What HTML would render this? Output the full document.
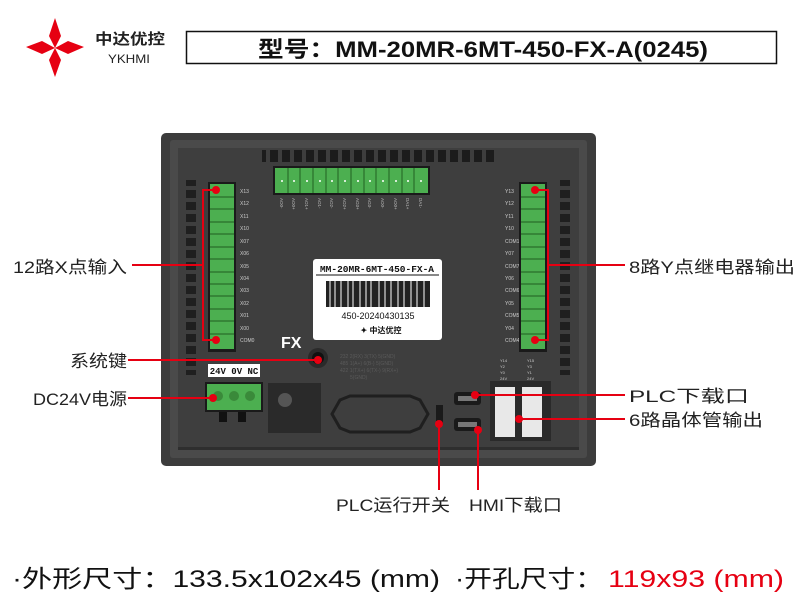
<!DOCTYPE html>
<html><head><meta charset="utf-8"><style>
body{margin:0;width:800px;height:600px;background:#fff;overflow:hidden;font-family:"Liberation Sans","Noto Sans CJK SC",sans-serif}
</style></head><body>
<svg width="800" height="600" viewBox="0 0 800 600" xmlns="http://www.w3.org/2000/svg" font-family="Liberation Sans, Noto Sans CJK SC, sans-serif">
<g fill="#e60012">
<polygon points="55,18 61,36 55,48 49,36"/>
<polygon points="55,48 61,60 55,77 49,60"/>
<polygon points="26,47 42,41 55,48 42,54"/>
<polygon points="84,47 68,41 55,48 68,54"/>
</g>
<text x="95" y="44" font-size="15" font-weight="bold" fill="#222" textLength="70" lengthAdjust="spacingAndGlyphs">中达优控</text>
<text x="108" y="63" font-size="12" fill="#222" textLength="42" lengthAdjust="spacingAndGlyphs">YKHMI</text>
<rect x="186.5" y="31.5" width="590" height="32" fill="none" stroke="#111" stroke-width="1.5"/>
<text x="258" y="57" font-size="22" font-weight="bold" fill="#111" textLength="450" lengthAdjust="spacingAndGlyphs">型号：MM-20MR-6MT-450-FX-A(0245)</text>

<rect x="161" y="133" width="435" height="333" rx="5" fill="#3c3c3c"/>
<rect x="170" y="140" width="417" height="318" rx="3" fill="#4a4a4a"/>
<rect x="178" y="148" width="401" height="300" fill="#3e3e3e"/>
<rect x="178" y="447" width="401" height="3" fill="#2e2e2e"/>
<rect x="262" y="150" width="232" height="12" fill="#1c1c1c"/>
<g fill="#1f1f1f">
<rect x="186" y="180" width="10" height="195"/>
<rect x="560" y="180" width="10" height="195"/>
</g>
<g fill="#3e3e3e">
<rect x="186" y="186" width="10" height="4"/><rect x="186" y="198" width="10" height="4"/><rect x="186" y="210" width="10" height="4"/><rect x="186" y="222" width="10" height="4"/><rect x="186" y="234" width="10" height="4"/><rect x="186" y="246" width="10" height="4"/><rect x="186" y="258" width="10" height="4"/><rect x="186" y="270" width="10" height="4"/><rect x="186" y="282" width="10" height="4"/><rect x="186" y="294" width="10" height="4"/><rect x="186" y="306" width="10" height="4"/><rect x="186" y="318" width="10" height="4"/><rect x="186" y="330" width="10" height="4"/><rect x="186" y="342" width="10" height="4"/><rect x="186" y="354" width="10" height="4"/><rect x="186" y="366" width="10" height="4"/>
<rect x="560" y="186" width="10" height="4"/><rect x="560" y="198" width="10" height="4"/><rect x="560" y="210" width="10" height="4"/><rect x="560" y="222" width="10" height="4"/><rect x="560" y="234" width="10" height="4"/><rect x="560" y="246" width="10" height="4"/><rect x="560" y="258" width="10" height="4"/><rect x="560" y="270" width="10" height="4"/><rect x="560" y="282" width="10" height="4"/><rect x="560" y="294" width="10" height="4"/><rect x="560" y="306" width="10" height="4"/><rect x="560" y="318" width="10" height="4"/><rect x="560" y="330" width="10" height="4"/><rect x="560" y="342" width="10" height="4"/><rect x="560" y="354" width="10" height="4"/><rect x="560" y="366" width="10" height="4"/>
<rect x="266" y="150" width="4" height="12"/><rect x="278" y="150" width="4" height="12"/><rect x="290" y="150" width="4" height="12"/><rect x="302" y="150" width="4" height="12"/><rect x="314" y="150" width="4" height="12"/><rect x="326" y="150" width="4" height="12"/><rect x="338" y="150" width="4" height="12"/><rect x="350" y="150" width="4" height="12"/><rect x="362" y="150" width="4" height="12"/><rect x="374" y="150" width="4" height="12"/><rect x="386" y="150" width="4" height="12"/><rect x="398" y="150" width="4" height="12"/><rect x="410" y="150" width="4" height="12"/><rect x="422" y="150" width="4" height="12"/><rect x="434" y="150" width="4" height="12"/><rect x="446" y="150" width="4" height="12"/><rect x="458" y="150" width="4" height="12"/><rect x="470" y="150" width="4" height="12"/><rect x="482" y="150" width="4" height="12"/>
</g>
<rect x="273" y="166" width="157" height="29" fill="#1a1a1a"/>
<rect x="275" y="168" width="153" height="25" fill="#4caf50"/>
<g stroke="#2a6e2a" stroke-width="1.2">
<line x1="288" y1="168" x2="288" y2="193"/><line x1="300" y1="168" x2="300" y2="193"/><line x1="313" y1="168" x2="313" y2="193"/><line x1="326" y1="168" x2="326" y2="193"/><line x1="338" y1="168" x2="338" y2="193"/><line x1="351" y1="168" x2="351" y2="193"/><line x1="364" y1="168" x2="364" y2="193"/><line x1="376" y1="168" x2="376" y2="193"/><line x1="389" y1="168" x2="389" y2="193"/><line x1="402" y1="168" x2="402" y2="193"/><line x1="414" y1="168" x2="414" y2="193"/>
</g>
<g fill="#fff"><circle cx="282" cy="181" r="1"/><circle cx="294" cy="181" r="1"/><circle cx="307" cy="181" r="1"/><circle cx="320" cy="181" r="1"/><circle cx="332" cy="181" r="1"/><circle cx="345" cy="181" r="1"/><circle cx="358" cy="181" r="1"/><circle cx="370" cy="181" r="1"/><circle cx="383" cy="181" r="1"/><circle cx="396" cy="181" r="1"/><circle cx="408" cy="181" r="1"/><circle cx="421" cy="181" r="1"/></g>
<g font-size="4.5" fill="#bbb">
<text transform="translate(280,198) rotate(90)">AO0-</text><text transform="translate(292,198) rotate(90)">AO0+</text><text transform="translate(305,198) rotate(90)">AO1+</text><text transform="translate(318,198) rotate(90)">AO1-</text><text transform="translate(330,198) rotate(90)">AO2-</text><text transform="translate(343,198) rotate(90)">AO2+</text><text transform="translate(356,198) rotate(90)">AO3+</text><text transform="translate(368,198) rotate(90)">AO3-</text><text transform="translate(381,198) rotate(90)">AO0-</text><text transform="translate(394,198) rotate(90)">AO0+</text><text transform="translate(406,198) rotate(90)">DA1+</text><text transform="translate(419,198) rotate(90)">DA1-</text>
</g>
<rect x="208" y="182" width="28" height="170" fill="#1a1a1a"/>
<rect x="210" y="184" width="24" height="165" fill="#4caf50"/>
<g stroke="#2a6e2a" stroke-width="1.2">
<line x1="210" y1="197" x2="234" y2="197"/><line x1="210" y1="209" x2="234" y2="209"/><line x1="210" y1="222" x2="234" y2="222"/><line x1="210" y1="234" x2="234" y2="234"/><line x1="210" y1="247" x2="234" y2="247"/><line x1="210" y1="259" x2="234" y2="259"/><line x1="210" y1="272" x2="234" y2="272"/><line x1="210" y1="284" x2="234" y2="284"/><line x1="210" y1="296" x2="234" y2="296"/><line x1="210" y1="309" x2="234" y2="309"/><line x1="210" y1="321" x2="234" y2="321"/><line x1="210" y1="334" x2="234" y2="334"/>
</g>
<g font-size="5" fill="#ccc">
<text x="240" y="193">X13</text><text x="240" y="205">X12</text><text x="240" y="218">X11</text><text x="240" y="230">X10</text><text x="240" y="243">X07</text><text x="240" y="255">X06</text><text x="240" y="268">X05</text><text x="240" y="280">X04</text><text x="240" y="292">X03</text><text x="240" y="305">X02</text><text x="240" y="317">X01</text><text x="240" y="330">X00</text><text x="240" y="342">COM0</text>
<text x="505" y="193">Y13</text><text x="505" y="205">Y12</text><text x="505" y="218">Y11</text><text x="505" y="230">Y10</text><text x="505" y="243">COM1</text><text x="505" y="255">Y07</text><text x="505" y="268">COM7</text><text x="505" y="280">Y06</text><text x="505" y="292">COM6</text><text x="505" y="305">Y05</text><text x="505" y="317">COM5</text><text x="505" y="330">Y04</text><text x="505" y="342">COM4</text>
</g>
<rect x="519" y="182" width="28" height="170" fill="#1a1a1a"/>
<rect x="521" y="184" width="24" height="165" fill="#4caf50"/>
<g stroke="#2a6e2a" stroke-width="1.2">
<line x1="521" y1="197" x2="545" y2="197"/><line x1="521" y1="209" x2="545" y2="209"/><line x1="521" y1="222" x2="545" y2="222"/><line x1="521" y1="234" x2="545" y2="234"/><line x1="521" y1="247" x2="545" y2="247"/><line x1="521" y1="259" x2="545" y2="259"/><line x1="521" y1="272" x2="545" y2="272"/><line x1="521" y1="284" x2="545" y2="284"/><line x1="521" y1="296" x2="545" y2="296"/><line x1="521" y1="309" x2="545" y2="309"/><line x1="521" y1="321" x2="545" y2="321"/><line x1="521" y1="334" x2="545" y2="334"/>
</g>
<rect x="313" y="259" width="129" height="81" rx="3" fill="#fff"/>
<text x="377" y="272" font-size="9.5" font-weight="bold" fill="#111" text-anchor="middle" font-family="Liberation Mono, monospace">MM-20MR-6MT-450-FX-A</text>
<line x1="316" y1="275" x2="439" y2="275" stroke="#111"/>
<rect x="326" y="281" width="104" height="26" fill="#222"/>
<g stroke="#fff" stroke-width="1"><line x1="330" y1="281" x2="330" y2="307"/><line x1="335" y1="281" x2="335" y2="307"/><line x1="341" y1="281" x2="341" y2="307"/><line x1="348" y1="281" x2="348" y2="307"/><line x1="353" y1="281" x2="353" y2="307"/><line x1="360" y1="281" x2="360" y2="307"/><line x1="366" y1="281" x2="366" y2="307"/><line x1="371" y1="281" x2="371" y2="307"/><line x1="379" y1="281" x2="379" y2="307"/><line x1="385" y1="281" x2="385" y2="307"/><line x1="391" y1="281" x2="391" y2="307"/><line x1="398" y1="281" x2="398" y2="307"/><line x1="404" y1="281" x2="404" y2="307"/><line x1="411" y1="281" x2="411" y2="307"/><line x1="417" y1="281" x2="417" y2="307"/><line x1="424" y1="281" x2="424" y2="307"/></g>
<text x="378" y="319" font-size="9" fill="#111" text-anchor="middle">450-20240430135</text>
<text x="381" y="333" font-size="8" font-weight="bold" fill="#111" text-anchor="middle">✦ 中达优控</text>
<text x="281" y="348" font-size="16" font-weight="bold" fill="#fff">FX</text>
<circle cx="318" cy="358" r="10" fill="#2a2a2a"/><circle cx="318" cy="358" r="6" fill="#111"/>
<g font-size="5" fill="#5a5a5a"><text x="340" y="358">232 2(RX) 3(TX) 5(GND)</text><text x="340" y="365">485 1(A+) 6(B-) 5(GND)</text><text x="340" y="372">422 1(TX+) 6(TX-) 9(RX+)</text><text x="350" y="379">5(GND)</text></g>
<rect x="208" y="364" width="52" height="13" fill="#fff"/>
<text x="234" y="374" font-size="9" font-weight="bold" fill="#111" text-anchor="middle" font-family="Liberation Mono, monospace">24V 0V NC</text>
<rect x="205" y="382" width="58" height="30" fill="#1a1a1a"/>
<rect x="207" y="384" width="54" height="26" fill="#4caf50"/>
<circle cx="218" cy="396" r="5" fill="#3a8a3a"/><circle cx="234" cy="396" r="5" fill="#3a8a3a"/><circle cx="250" cy="396" r="5" fill="#3a8a3a"/>
<rect x="219" y="412" width="8" height="10" fill="#111"/><rect x="238" y="412" width="8" height="10" fill="#111"/>
<rect x="268" y="383" width="53" height="50" fill="#2a2a2a"/>
<circle cx="285" cy="400" r="7" fill="#555"/>
<path d="M340 400 L350 396 L410 396 L420 400 L428 414 L420 428 L410 432 L350 432 L340 428 L332 414 Z" fill="none" stroke="#1f1f1f" stroke-width="3"/>
<rect x="436" y="405" width="7" height="20" fill="#1a1a1a"/>
<rect x="454" y="392" width="27" height="13" rx="3" fill="#1a1a1a"/><rect x="458" y="396" width="19" height="5" fill="#777"/>
<rect x="454" y="418" width="27" height="13" rx="3" fill="#1a1a1a"/><rect x="458" y="422" width="19" height="5" fill="#777"/>
<g font-size="4" fill="#ccc"><text x="500" y="362">Y14</text><text x="527" y="362">Y15</text><text x="500" y="368">Y2</text><text x="527" y="368">Y3</text><text x="500" y="374">Y0</text><text x="527" y="374">Y1</text><text x="500" y="380">24V</text><text x="527" y="380">24V</text></g>
<rect x="490" y="381" width="61" height="60" fill="#2a2a2a"/>
<rect x="495" y="387" width="20" height="50" fill="#e8e8e8"/><rect x="522" y="387" width="20" height="50" fill="#e8e8e8"/>

<g stroke="#e60012" stroke-width="2" fill="none">
<polyline points="216,190 203,190 203,340 216,340"/>
<line x1="132" y1="265" x2="203" y2="265"/>
<polyline points="535,190 548,190 548,340 535,340"/>
<line x1="548" y1="265" x2="625" y2="265"/>
<line x1="128" y1="360" x2="318" y2="360"/>
<line x1="128" y1="398" x2="213" y2="398"/>
<line x1="475" y1="395" x2="625" y2="395"/>
<line x1="519" y1="419" x2="625" y2="419"/>
<line x1="439" y1="424" x2="439" y2="490"/>
<line x1="478" y1="430" x2="478" y2="490"/>
</g>
<g fill="#e60012">
<circle cx="216" cy="190" r="4"/><circle cx="216" cy="340" r="4"/><circle cx="535" cy="190" r="4"/><circle cx="535" cy="340" r="4"/>
<circle cx="318" cy="360" r="4"/><circle cx="213" cy="398" r="4"/><circle cx="475" cy="395" r="4"/><circle cx="519" cy="419" r="4"/><circle cx="439" cy="424" r="4"/><circle cx="478" cy="430" r="4"/>
</g>
<g font-size="17" fill="#222" lengthAdjust="spacingAndGlyphs">
<text x="13" y="273" textLength="114" lengthAdjust="spacingAndGlyphs">12路X点输入</text>
<text x="629" y="273" textLength="166" lengthAdjust="spacingAndGlyphs">8路Y点继电器输出</text>
<text x="70" y="367" textLength="57" lengthAdjust="spacingAndGlyphs">系统键</text>
<text x="33" y="405" textLength="94" lengthAdjust="spacingAndGlyphs">DC24V电源</text>
<text x="629" y="402" textLength="120" lengthAdjust="spacingAndGlyphs">PLC下载口</text>
<text x="629" y="426" textLength="134" lengthAdjust="spacingAndGlyphs">6路晶体管输出</text>
<text x="336" y="511" textLength="114" lengthAdjust="spacingAndGlyphs">PLC运行开关</text>
<text x="469" y="511" textLength="93" lengthAdjust="spacingAndGlyphs">HMI下载口</text>
</g>
<text x="12" y="587" font-size="24" fill="#111" textLength="428" lengthAdjust="spacingAndGlyphs">·外形尺寸：133.5x102x45 (mm)</text>
<text x="455" y="587" font-size="24" fill="#111" textLength="148" lengthAdjust="spacingAndGlyphs">·开孔尺寸：</text>
<text x="608" y="587" font-size="24" fill="#e60012" textLength="176" lengthAdjust="spacingAndGlyphs">119x93 (mm)</text>
</svg>
</body></html>
